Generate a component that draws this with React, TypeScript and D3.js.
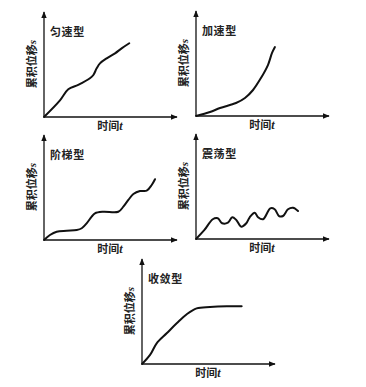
import React, { useEffect, useRef } from "react";
import * as d3 from "d3";

// panel titles
const titles = ["匀速型", "加速型", "阶梯型", "震荡型", "收敛型"];

// curve values (x = time, y = cumulative displacement), 0-100 scale
const uniformX = [0, 12.1, 18.4, 25.9, 34.8, 37.4, 39.9, 42.4, 47.5, 53.8, 58.8, 64.6];
const uniformY = [0, 16, 26.6, 30.8, 37.2, 40.4, 46.8, 51.6, 56.4, 61.2, 66.0, 70.9];

const accelX = [0, 10.6, 18.2, 30.3, 37.1, 43.2, 49.2, 54.5, 57.6, 59.8];
const accelY = [0, 3.8, 7.7, 12.5, 17.3, 25, 36.5, 49, 60.6, 66.3];

const stepX = [0, 4.5, 9.6, 17.2, 24.8, 28.6, 32.3, 36.1, 38.6, 44.9, 56.3, 60.1, 63.9, 67.7, 72.7, 77.8, 81.6, 84.1];
const stepY = [0, 4.8, 8.0, 8.9, 9.6, 11.3, 16.0, 22.4, 25.7, 27.2, 27.2, 32.0, 38.5, 44.2, 47.1, 47.4, 52.9, 58.4];

const oscX = [0, 6.4, 12.7, 16.5, 19.8, 24.2, 27.5, 30.5, 34.3, 38.1, 40.7, 44.5, 47.0, 50.8, 56.3, 59.6, 62.9, 65.9, 69.7, 73.5, 77.3];
const oscY = [0, 8.7, 19.0, 19.9, 15.1, 15.7, 20.9, 18.3, 11.8, 15.1, 20.9, 25.3, 20.9, 19.0, 29.5, 28.6, 22.1, 22.1, 28.6, 30.1, 26.9];

const convX = [0, 6.1, 11.1, 18.7, 26.3, 33.9, 41.4, 51.5, 64.2, 75.5];
const convY = [0, 8.7, 19.9, 29.5, 39.1, 47.8, 53.5, 54.8, 55.5, 55.5];

const series = [
  [uniformX, uniformY],
  [accelX, accelY],
  [stepX, stepY],
  [oscX, oscY],
  [convX, convY],
];

// panel origins in the picture
const origins = [
  [44, 117],
  [196, 116],
  [44, 240],
  [196, 239],
  [142, 364],
];

const W = 366, H = 387;
const axisLen = 132, axisHeight = 104;
const cjk = "'Noto Sans CJK SC', sans-serif";

export default function App() {
  const ref = useRef<SVGSVGElement>(null);

  useEffect(() => {
    const svg = d3.select(ref.current);
    svg.selectAll("*").remove();

    svg.append("defs").append("marker")
      .attr("id", "arr")
      .attr("viewBox", "0 0 10 10")
      .attr("refX", 9).attr("refY", 5)
      .attr("markerWidth", 7).attr("markerHeight", 7)
      .attr("markerUnits", "userSpaceOnUse")
      .attr("orient", "auto")
      .append("path").attr("d", "M0,1 L10,5 L0,9 Z").attr("fill", "#111");

    const x = d3.scaleLinear().domain([0, 100]).range([0, axisLen]);
    const y = d3.scaleLinear().domain([0, 100]).range([0, -axisHeight]);

    series.forEach(([xs, ys], i) => {
      const [ox, oy] = origins[i];
      const g = svg.append("g").attr("transform", `translate(${ox},${oy})`);

      // axes
      g.append("line").attr("x1", 0).attr("y1", 0).attr("x2", axisLen + 1).attr("y2", 0)
        .attr("stroke", "#111").attr("stroke-width", 1.3).attr("marker-end", "url(#arr)");
      g.append("line").attr("x1", 0).attr("y1", 0).attr("x2", 0).attr("y2", -axisHeight - 1)
        .attr("stroke", "#111").attr("stroke-width", 1.3).attr("marker-end", "url(#arr)");

      const pts = xs.map((v, j) => [v, ys[j]] as [number, number]);
      const line = d3.line<[number, number]>()
        .x(d => x(d[0])).y(d => y(d[1]))
        .curve(d3.curveCatmullRom.alpha(0.5));
      g.append("path").attr("d", line(pts))
        .attr("fill", "none").attr("stroke", "#111").attr("stroke-width", 2)
        .attr("stroke-linejoin", "round").attr("stroke-linecap", "round");

      // title
      g.append("text").attr("x", 6).attr("y", -81)
        .attr("font-family", cjk).attr("font-size", 11).attr("font-weight", 700)
        .attr("letter-spacing", 0.6)
        .attr("fill", "#222").text(titles[i]);

      // x label
      const xl = g.append("text").attr("x", 66).attr("y", 13)
        .attr("text-anchor", "middle")
        .attr("font-family", cjk).attr("font-size", 11).attr("font-weight", 700).attr("fill", "#222");
      xl.append("tspan").text("时间");
      xl.append("tspan").attr("font-family", "'Liberation Serif', serif").attr("font-style", "italic")
        .attr("font-size", 12).text("t");

      // y label
      const yl = g.append("text")
        .attr("transform", `translate(-8,-53) rotate(-90)`)
        .attr("text-anchor", "middle")
        .attr("font-family", cjk).attr("font-size", 11).attr("font-weight", 700).attr("fill", "#222");
      yl.append("tspan").text("累积位移");
      yl.append("tspan").attr("font-family", "'Liberation Serif', serif").attr("font-style", "italic").text("s");
    });
  }, []);

  return (
    <svg ref={ref} width={W} height={H}
      style={{ position: "absolute", left: 0, top: 0, background: "#fff" }} />
  );
}
